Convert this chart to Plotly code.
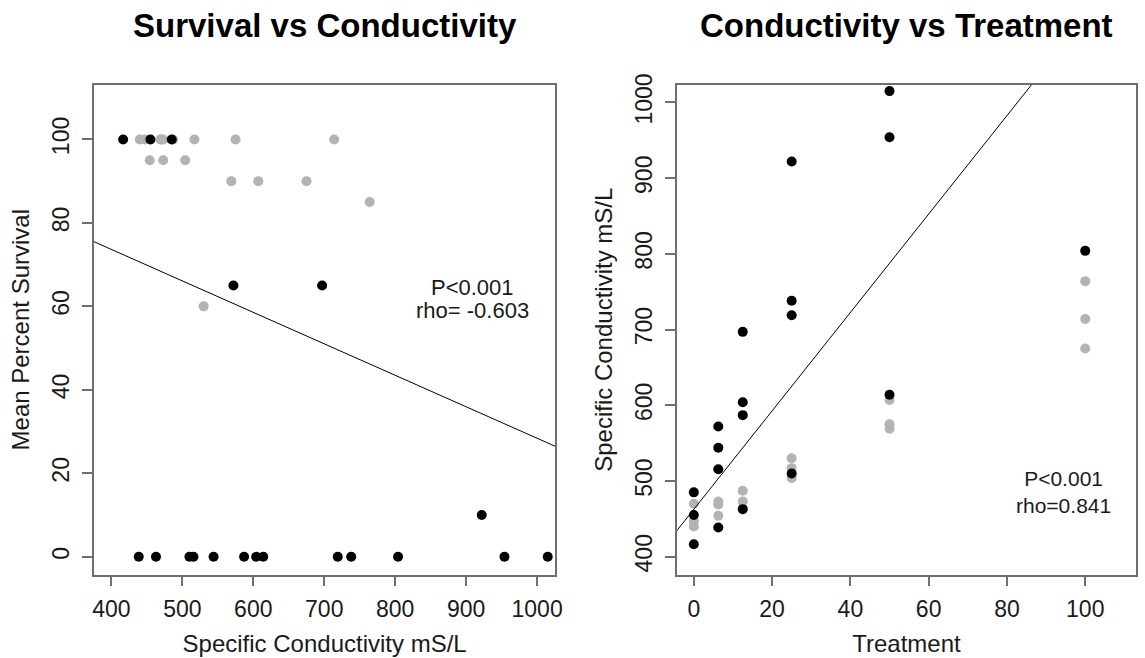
import plotly.graph_objects as go

# ---- data ----
# black points (one group)
black_cond = [416.5, 455, 485, 438.5, 515.6, 544, 572, 462.8, 587, 604, 697,
              510, 719, 738, 922, 614, 954, 1015, 804]
black_treat = [0, 0, 0, 6.25, 6.25, 6.25, 6.25, 12.5, 12.5, 12.5, 12.5,
               25, 25, 25, 25, 50, 50, 50, 100]
black_surv = [100, 100, 100, 0, 0, 0, 65, 0, 0, 0, 65,
              0, 0, 0, 10, 0, 0, 0, 0]

# grey points (other group)
grey_cond = [440, 447, 470, 454, 469, 473, 473, 487, 504, 517, 530,
             569, 575, 607, 675, 714, 764]
grey_treat = [0, 0, 0, 6.25, 6.25, 6.25, 12.5, 12.5, 25, 25, 25,
              50, 50, 50, 100, 100, 100]
grey_surv = [100, 100, 100, 95, 100, 95, 100, 100, 95, 100, 60,
             90, 100, 90, 90, 100, 85]

# fitted lines (intercept, slope)
fit_surv = (103.8, -0.0754)
fit_cond = (462.6, 6.50)

# axis ticks
x1_ticks = [400, 500, 600, 700, 800, 900, 1000]
y1_ticks = [0, 20, 40, 60, 80, 100]
x2_ticks = [0, 20, 40, 60, 80, 100]
y2_ticks = [400, 500, 600, 700, 800, 900, 1000]

x1_range = [375.4, 1025.7]
y1_range = [-4.3, 113.1]
x2_range = [-4.26, 112.9]
y2_range = [376.2, 1023.4]

W, H = 1145, 658
FONT = "Liberation Sans, Arial, sans-serif"
GREY = "#b3b3b3"
FRAME = "#6e6e6e"
MSIZE = 10

fig = go.Figure()

# left panel
fig.add_trace(go.Scatter(x=grey_cond, y=grey_surv, mode="markers",
                         marker=dict(color=GREY, size=MSIZE), xaxis="x", yaxis="y",
                         showlegend=False))
fig.add_trace(go.Scatter(x=black_cond, y=black_surv, mode="markers",
                         marker=dict(color="black", size=MSIZE), xaxis="x", yaxis="y",
                         showlegend=False))
lx = [x1_range[0] - 50, x1_range[1] + 50]
fig.add_trace(go.Scatter(x=lx, y=[fit_surv[0] + fit_surv[1] * v for v in lx],
                         mode="lines", line=dict(color="black", width=1),
                         xaxis="x", yaxis="y", showlegend=False, hoverinfo="skip"))

# right panel
fig.add_trace(go.Scatter(x=grey_treat, y=grey_cond, mode="markers",
                         marker=dict(color=GREY, size=MSIZE), xaxis="x2", yaxis="y2",
                         showlegend=False))
fig.add_trace(go.Scatter(x=black_treat, y=black_cond, mode="markers",
                         marker=dict(color="black", size=MSIZE), xaxis="x2", yaxis="y2",
                         showlegend=False))
rx = [x2_range[0] - 10, x2_range[1] + 10]
fig.add_trace(go.Scatter(x=rx, y=[fit_cond[0] + fit_cond[1] * v for v in rx],
                         mode="lines", line=dict(color="black", width=1),
                         xaxis="x2", yaxis="y2", showlegend=False, hoverinfo="skip"))

ydom = [1 - 573.3 / H, 1 - 75 / H]
axis_common = dict(showline=True, mirror=True, linecolor=FRAME, linewidth=1.5,
                   ticks="outside", ticklen=10, tickwidth=1.5, tickcolor=FRAME,
                   showgrid=False, zeroline=False,
                   tickfont=dict(family=FONT, size=23, color="#1a1a1a"),
                   title_font=dict(family=FONT, size=24, color="#1a1a1a"))

fig.update_layout(
    width=W, height=H,
    margin=dict(l=0, r=0, t=0, b=0),
    paper_bgcolor="white", plot_bgcolor="white",
    font=dict(family=FONT),
    xaxis=dict(domain=[92.7 / W, 557.7 / W], range=x1_range, tickvals=x1_ticks,
               title=dict(text="Specific Conductivity mS/L", standoff=14),
               ticklabelstandoff=3, anchor="y", **axis_common),
    yaxis=dict(domain=ydom, range=y1_range, tickvals=y1_ticks, tickangle=-90,
               title=dict(text="Mean Percent Survival", standoff=12),
               ticklabelstandoff=4, anchor="x", **axis_common),
    xaxis2=dict(domain=[680.5 / W, 1142.7 / W], range=x2_range, tickvals=x2_ticks,
                title=dict(text="Treatment", standoff=14),
                ticklabelstandoff=3, anchor="y2", **axis_common),
    yaxis2=dict(domain=ydom, range=y2_range, tickvals=y2_ticks, tickangle=-90,
                title=dict(text="Specific Conductivity mS/L", standoff=12),
                ticklabelstandoff=4, anchor="x2", **axis_common),
)

ann_font = dict(family=FONT, size=22, color="#1a1a1a")
title_font = dict(family=FONT, size=33, color="black")
fig.add_annotation(x=(92.7 + 557.7) / 2 / W, y=1 - 15 / H, xref="paper", yref="paper",
                   text="<b>Survival vs Conductivity</b>", showarrow=False,
                   font=title_font, xanchor="center", yanchor="middle")
fig.add_annotation(x=(680.5 + 1142.7) / 2 / W, y=1 - 15 / H, xref="paper", yref="paper",
                   text="<b>Conductivity vs Treatment</b>", showarrow=False,
                   font=title_font, xanchor="center", yanchor="middle")

fig.add_annotation(x=908.7, y=64.6, xref="x", yref="y", text="P<0.001",
                   showarrow=False, font=ann_font, xanchor="center", yanchor="middle")
fig.add_annotation(x=908.7, y=58.9, xref="x", yref="y", text="rho= -0.603",
                   showarrow=False, font=ann_font, xanchor="center", yanchor="middle")
fig.add_annotation(x=94.5, y=485.0, xref="x2", yref="y2", text="P<0.001<br>rho=0.841",
                   showarrow=False, font=dict(family=FONT, size=21, color="#1a1a1a"),
                   xanchor="center", yanchor="middle")

fig.write_html("out.html")
